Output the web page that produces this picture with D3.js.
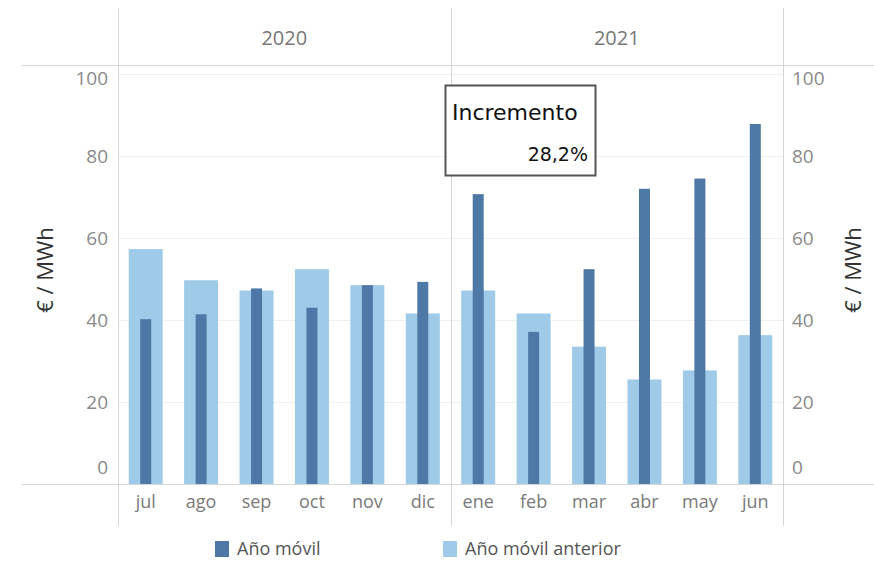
<!DOCTYPE html>
<html>
<head>
<meta charset="utf-8">
<script src="https://cdn.jsdelivr.net/npm/d3@7"></script>
<style>
  body { margin: 0; background: #fff; }
  svg { display: block; font-family: "Open Sans", sans-serif; }
</style>
</head>
<body>
<svg id="chart" width="874" height="561"></svg>
<script>
const months = ["jul", "ago", "sep", "oct", "nov", "dic", "ene", "feb", "mar", "abr", "may", "jun"]
const years = [
  { label: "2020", from: "jul", to: "dic" },
  { label: "2021", from: "ene", to: "jun" },
]
const anioMovil = [40.2, 41.4, 47.7, 43.0, 48.5, 49.3, 70.7, 37.1, 52.4, 72.0, 74.5, 87.8]
const anioMovilAnterior = [57.3, 49.7, 47.2, 52.4, 48.5, 41.6, 47.2, 41.6, 33.5, 25.5, 27.7, 36.3]
const yTicks = [0, 20, 40, 60, 80, 100]
const incremento = "28,2%"

const DARK = "#4e79a7"
const LIGHT = "#a0cbe8"

const svg = d3.select("#chart")
const plotL = 118, plotR = 783, plotT = 65, plotB = 484

const x = d3.scaleBand().domain(months).range([plotL, plotR])
const y = d3.scaleLinear().domain([0, 100]).range([plotB, 74])

// gridlines
svg.append("g")
  .selectAll("line")
  .data(yTicks.filter((t) => t > 0))
  .join("line")
  .attr("x1", plotL).attr("x2", plotR)
  .attr("y1", (d) => y(d) + 0.5).attr("y2", (d) => y(d) + 0.5)
  .attr("stroke", "#f0f0f0")

// light bars (previous year)
svg.append("g")
  .selectAll("rect")
  .data(months)
  .join("rect")
  .attr("x", (m) => x(m) + x.bandwidth() / 2 - 17)
  .attr("width", 34)
  .attr("y", (m, i) => y(anioMovilAnterior[i]))
  .attr("height", (m, i) => plotB - y(anioMovilAnterior[i]))
  .attr("fill", LIGHT)

// dark bars (current)
svg.append("g")
  .selectAll("rect")
  .data(months)
  .join("rect")
  .attr("x", (m) => x(m) + x.bandwidth() / 2 - 5.5)
  .attr("width", 11)
  .attr("y", (m, i) => y(anioMovil[i]))
  .attr("height", (m, i) => plotB - y(anioMovil[i]))
  .attr("fill", DARK)

// frame lines
const frame = svg.append("g").attr("stroke", "#d6d6d6").attr("stroke-width", 1)
frame.append("line").attr("x1", 22).attr("x2", 874).attr("y1", plotT + 0.5).attr("y2", plotT + 0.5)
frame.append("line").attr("x1", 22).attr("x2", 874).attr("y1", plotB + 0.5).attr("y2", plotB + 0.5)
const dividers = [plotL, x("ene"), plotR]
frame.selectAll(".vl")
  .data(dividers)
  .join("line")
  .attr("x1", (d) => Math.round(d) + 0.5).attr("x2", (d) => Math.round(d) + 0.5)
  .attr("y1", 8).attr("y2", 526)

// year headers
svg.append("g")
  .selectAll("text")
  .data(years)
  .join("text")
  .attr("x", (d) => (x(d.from) + x(d.to) + x.bandwidth()) / 2)
  .attr("y", 45)
  .attr("text-anchor", "middle")
  .attr("fill", "#777")
  .attr("font-size", 20)
  .text((d) => d.label)

// y axes
const tickY = (t) => (t === 0 ? y(t) - 17 : t === 100 ? y(t) + 4 : y(t))
const axisL = svg.append("g").attr("transform", `translate(${plotL - 10},0)`)
axisL.selectAll("text")
  .data(yTicks)
  .join("text")
  .attr("y", tickY)
  .attr("dy", "0.35em")
  .attr("text-anchor", "end")
  .attr("fill", "#8a8a8a")
  .attr("font-size", 19)
  .text((d) => d)
const axisR = svg.append("g").attr("transform", `translate(${plotR + 9},0)`)
axisR.selectAll("text")
  .data(yTicks)
  .join("text")
  .attr("y", tickY)
  .attr("dy", "0.35em")
  .attr("text-anchor", "start")
  .attr("fill", "#8a8a8a")
  .attr("font-size", 19)
  .text((d) => d)

// axis titles
;[45, 853].forEach((cx) => {
  svg.append("text")
    .attr("transform", `translate(${cx},270) rotate(-90)`)
    .attr("text-anchor", "middle")
    .attr("dy", "0.35em")
    .attr("fill", "#333")
    .attr("font-size", 22)
    .text("€ / MWh")
})

// month labels
svg.append("g")
  .selectAll("text")
  .data(months)
  .join("text")
  .attr("x", (m) => x(m) + x.bandwidth() / 2)
  .attr("y", 508)
  .attr("text-anchor", "middle")
  .attr("fill", "#7a7a7a")
  .attr("font-size", 18)
  .text((m) => m)

// annotation box
const box = svg.append("g")
box.append("rect")
  .attr("x", 445.5).attr("y", 85.5).attr("width", 150).attr("height", 90)
  .attr("fill", "#fff").attr("stroke", "#555").attr("stroke-width", 2)
box.append("text")
  .attr("x", 452).attr("y", 120)
  .attr("font-family", "'DejaVu Sans', sans-serif")
  .attr("font-size", 22)
  .attr("fill", "#111")
  .text("Incremento")
box.append("text")
  .attr("x", 588).attr("y", 161)
  .attr("text-anchor", "end")
  .attr("font-family", "'DejaVu Sans', sans-serif")
  .attr("font-size", 19)
  .attr("fill", "#111")
  .text(incremento)

// legend
const legend = [
  { label: "Año móvil", color: DARK, x: 215 },
  { label: "Año móvil anterior", color: LIGHT, x: 443 },
]
const lg = svg.append("g")
  .selectAll("g")
  .data(legend)
  .join("g")
  .attr("transform", (d) => `translate(${d.x},541)`)
lg.append("rect").attr("width", 14).attr("height", 16).attr("fill", (d) => d.color)
lg.append("text")
  .attr("x", 22).attr("y", 14)
  .attr("fill", "#555")
  .attr("font-size", 18)
  .text((d) => d.label)
</script>
</body>
</html>
